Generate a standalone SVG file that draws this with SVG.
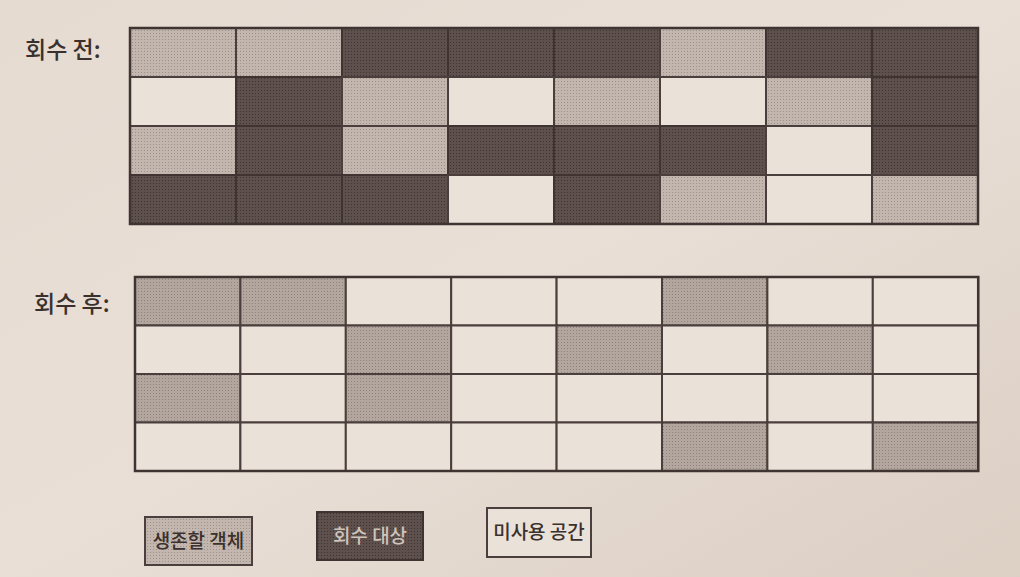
<svg xmlns="http://www.w3.org/2000/svg" width="1020" height="577" viewBox="0 0 1020 577">
<defs>
<linearGradient id="paper" x1="0" y1="0" x2="1" y2="1">
<stop offset="0" stop-color="#e6dbd1"/>
<stop offset="0.5" stop-color="#e9dfd6"/>
<stop offset="1" stop-color="#dccfc4"/>
</linearGradient>
<pattern id="dotL" width="3" height="3" patternUnits="userSpaceOnUse">
<rect width="3" height="3" fill="#c2b6ae"/>
<rect width="1" height="1" fill="#9e918a"/>
</pattern>
<pattern id="dotD" width="3" height="3" patternUnits="userSpaceOnUse">
<rect width="3" height="3" fill="#5e514d"/>
<rect width="1" height="1" fill="#3f3431"/>
</pattern>
<pattern id="dotM" width="3" height="3" patternUnits="userSpaceOnUse">
<rect width="3" height="3" fill="#b3a69e"/>
<rect width="1" height="1" fill="#8f827b"/>
</pattern>
</defs>
<style>
.L{fill:url(#dotL);stroke:#4a3f3c;stroke-width:2}
.M{fill:url(#dotM);stroke:#4a3f3c;stroke-width:2}
.D{fill:url(#dotD);stroke:#3f3431;stroke-width:2}
.W{fill:#eae1d8;stroke:#4a3f3c;stroke-width:2}
.lbl{font-family:"Noto Sans CJK KR","Noto Sans",sans-serif;font-size:23px;font-weight:500;fill:#3a302d}
.leg{font-family:"Noto Sans CJK KR","Noto Sans",sans-serif;font-size:19px;font-weight:500;fill:#3a302d}
.legD{font-family:"Noto Sans CJK KR","Noto Sans",sans-serif;font-size:19px;font-weight:500;fill:#cfc4bc}
</style>
<rect width="1020" height="577" fill="url(#paper)"/>

<g id="label-before"><text class="lbl" x="25" y="58">회수 전:</text></g>
<g id="label-after"><text class="lbl" x="34" y="312">회수 후:</text></g>

<g id="grid-before">
<!-- row 0: L L D D D L D D -->
<rect class="L" x="130" y="28" width="106" height="49"/>
<rect class="L" x="236" y="28" width="106" height="49"/>
<rect class="D" x="342" y="28" width="106" height="49"/>
<rect class="D" x="448" y="28" width="106" height="49"/>
<rect class="D" x="554" y="28" width="106" height="49"/>
<rect class="L" x="660" y="28" width="106" height="49"/>
<rect class="D" x="766" y="28" width="106" height="49"/>
<rect class="D" x="872" y="28" width="106" height="49"/>
<!-- row 1: W D L W L W L D -->
<rect class="W" x="130" y="77" width="106" height="49"/>
<rect class="D" x="236" y="77" width="106" height="49"/>
<rect class="L" x="342" y="77" width="106" height="49"/>
<rect class="W" x="448" y="77" width="106" height="49"/>
<rect class="L" x="554" y="77" width="106" height="49"/>
<rect class="W" x="660" y="77" width="106" height="49"/>
<rect class="L" x="766" y="77" width="106" height="49"/>
<rect class="D" x="872" y="77" width="106" height="49"/>
<!-- row 2: L D L D D D W D -->
<rect class="L" x="130" y="126" width="106" height="49"/>
<rect class="D" x="236" y="126" width="106" height="49"/>
<rect class="L" x="342" y="126" width="106" height="49"/>
<rect class="D" x="448" y="126" width="106" height="49"/>
<rect class="D" x="554" y="126" width="106" height="49"/>
<rect class="D" x="660" y="126" width="106" height="49"/>
<rect class="W" x="766" y="126" width="106" height="49"/>
<rect class="D" x="872" y="126" width="106" height="49"/>
<!-- row 3: D D D W D L W L -->
<rect class="D" x="130" y="175" width="106" height="49"/>
<rect class="D" x="236" y="175" width="106" height="49"/>
<rect class="D" x="342" y="175" width="106" height="49"/>
<rect class="W" x="448" y="175" width="106" height="49"/>
<rect class="D" x="554" y="175" width="106" height="49"/>
<rect class="L" x="660" y="175" width="106" height="49"/>
<rect class="W" x="766" y="175" width="106" height="49"/>
<rect class="L" x="872" y="175" width="106" height="49"/>
<rect x="130" y="28" width="848" height="196" fill="none" stroke="#3f3431" stroke-width="2.5"/>
</g>

<g id="grid-after">
<!-- row 0: L L W W W L W W -->
<rect class="M" x="135" y="277" width="105.4" height="48.5"/>
<rect class="M" x="240.4" y="277" width="105.4" height="48.5"/>
<rect class="W" x="345.8" y="277" width="105.4" height="48.5"/>
<rect class="W" x="451.2" y="277" width="105.4" height="48.5"/>
<rect class="W" x="556.6" y="277" width="105.4" height="48.5"/>
<rect class="M" x="662" y="277" width="105.4" height="48.5"/>
<rect class="W" x="767.4" y="277" width="105.4" height="48.5"/>
<rect class="W" x="872.8" y="277" width="105.4" height="48.5"/>
<!-- row 1: W W L W L W L W -->
<rect class="W" x="135" y="325.5" width="105.4" height="48.5"/>
<rect class="W" x="240.4" y="325.5" width="105.4" height="48.5"/>
<rect class="M" x="345.8" y="325.5" width="105.4" height="48.5"/>
<rect class="W" x="451.2" y="325.5" width="105.4" height="48.5"/>
<rect class="M" x="556.6" y="325.5" width="105.4" height="48.5"/>
<rect class="W" x="662" y="325.5" width="105.4" height="48.5"/>
<rect class="M" x="767.4" y="325.5" width="105.4" height="48.5"/>
<rect class="W" x="872.8" y="325.5" width="105.4" height="48.5"/>
<!-- row 2: L W L W W W W W -->
<rect class="M" x="135" y="374" width="105.4" height="48.5"/>
<rect class="W" x="240.4" y="374" width="105.4" height="48.5"/>
<rect class="M" x="345.8" y="374" width="105.4" height="48.5"/>
<rect class="W" x="451.2" y="374" width="105.4" height="48.5"/>
<rect class="W" x="556.6" y="374" width="105.4" height="48.5"/>
<rect class="W" x="662" y="374" width="105.4" height="48.5"/>
<rect class="W" x="767.4" y="374" width="105.4" height="48.5"/>
<rect class="W" x="872.8" y="374" width="105.4" height="48.5"/>
<!-- row 3: W W W W W L W L -->
<rect class="W" x="135" y="422.5" width="105.4" height="48.5"/>
<rect class="W" x="240.4" y="422.5" width="105.4" height="48.5"/>
<rect class="W" x="345.8" y="422.5" width="105.4" height="48.5"/>
<rect class="W" x="451.2" y="422.5" width="105.4" height="48.5"/>
<rect class="W" x="556.6" y="422.5" width="105.4" height="48.5"/>
<rect class="M" x="662" y="422.5" width="105.4" height="48.5"/>
<rect class="W" x="767.4" y="422.5" width="105.4" height="48.5"/>
<rect class="M" x="872.8" y="422.5" width="105.4" height="48.5"/>
<rect x="135" y="277" width="843.2" height="194" fill="none" stroke="#3f3431" stroke-width="2.5"/>
</g>

<g id="legend-live">
<rect class="L" x="145" y="517" width="107" height="48"/>
<text class="leg" x="198.5" y="548" text-anchor="middle">생존할 객체</text>
</g>
<g id="legend-garbage">
<rect class="D" x="317" y="512" width="106" height="48"/>
<text class="legD" x="370" y="543" text-anchor="middle">회수 대상</text>
</g>
<g id="legend-free">
<rect class="W" x="487" y="508" width="104" height="49"/>
<text class="leg" x="539" y="539" text-anchor="middle">미사용 공간</text>
</g>
</svg>
